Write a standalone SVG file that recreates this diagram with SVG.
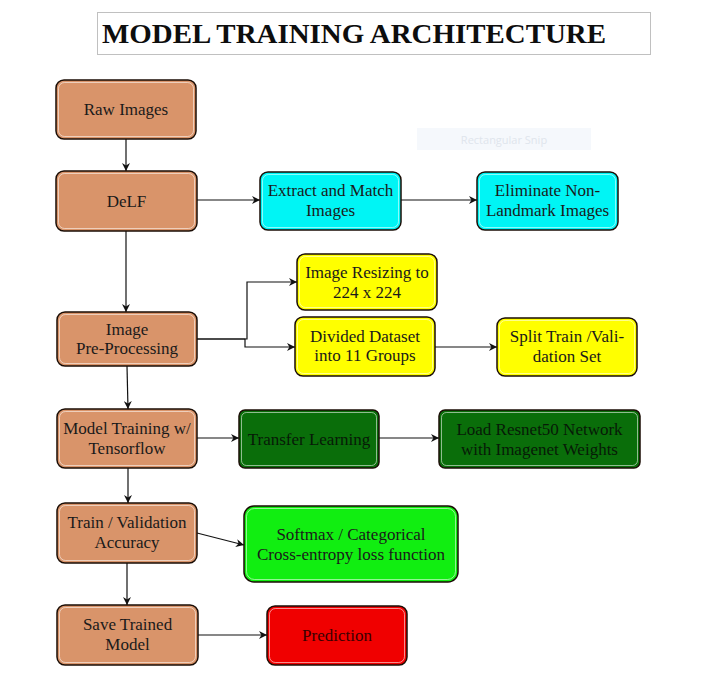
<svg xmlns="http://www.w3.org/2000/svg" width="706" height="694" viewBox="0 0 706 694">
<defs>
<marker id="arr" viewBox="0 0 10 10" refX="10" refY="5" markerWidth="8" markerHeight="8" markerUnits="userSpaceOnUse" orient="auto">
<path d="M0,0 L10,5 L0,10 L3,5 Z" fill="#111"/>
</marker>
<style>
.box{stroke:#1a0d05;stroke-width:1.5}
.inner{fill:none;stroke:#ffffff;stroke-opacity:0.55;stroke-width:1}
.brown{fill:#d9946a}
.cyan{fill:#00f5f5}
.yellow{fill:#ffff00}
.dgreen{fill:#0a6e0a}
.lgreen{fill:#11ee11}
.red{fill:#f00000}
.t{font-family:"Liberation Serif","Times New Roman",serif;font-size:17px;fill:#1a1a1a;text-anchor:middle}
.tg{fill:#071a07}
.tr{fill:#3a0000}
.conn{fill:none;stroke:#111;stroke-width:1.2}
</style>
</defs>
<rect width="706" height="694" fill="#ffffff"/>
<g id="title">
<rect x="97.5" y="12.5" width="553" height="42" fill="#ffffff" stroke="#c0c0c0" stroke-width="1"/>
<text x="102" y="43" font-family="Liberation Serif,'Times New Roman',serif" font-weight="bold" font-size="28" fill="#0d0d0d" textLength="504" lengthAdjust="spacingAndGlyphs">MODEL TRAINING ARCHITECTURE</text>
</g>
<g id="snip">
<rect x="417" y="128" width="174" height="22" fill="#f5f8fc"/>
<text x="504" y="144" font-family="'Open Sans','Noto Sans',sans-serif" font-size="11" fill="#dfe5ec" text-anchor="middle">Rectangular Snip</text>
</g>
<g id="connectors">
<line class="conn" x1="126" y1="139" x2="126" y2="171" marker-end="url(#arr)"/>
<line class="conn" x1="126" y1="231" x2="126" y2="312" marker-end="url(#arr)"/>
<line class="conn" x1="127" y1="366" x2="128" y2="409" marker-end="url(#arr)"/>
<line class="conn" x1="128" y1="468" x2="128" y2="503" marker-end="url(#arr)"/>
<line class="conn" x1="127" y1="563" x2="127" y2="605" marker-end="url(#arr)"/>
<line class="conn" x1="197" y1="200" x2="260" y2="200" marker-end="url(#arr)"/>
<line class="conn" x1="401" y1="200" x2="477" y2="200" marker-end="url(#arr)"/>
<polyline class="conn" points="197,339 247,339 247,282 297,282" marker-end="url(#arr)"/>
<polyline class="conn" points="197,339 245,339 245,347 295,347" marker-end="url(#arr)"/>
<line class="conn" x1="435" y1="347" x2="497" y2="347" marker-end="url(#arr)"/>
<line class="conn" x1="197" y1="438" x2="239" y2="438" marker-end="url(#arr)"/>
<line class="conn" x1="379" y1="438" x2="439" y2="438" marker-end="url(#arr)"/>
<line class="conn" x1="197" y1="533" x2="244" y2="545" marker-end="url(#arr)"/>
<line class="conn" x1="198" y1="635" x2="267" y2="635" marker-end="url(#arr)"/>
</g>
<g id="raw-images">
<rect class="box brown" x="56" y="80" width="140" height="59" rx="8"/>
<rect class="inner" x="58.5" y="82.5" width="135" height="54" rx="6"/>
<text class="t" x="126" y="115">Raw Images</text>
</g>
<g id="delf">
<rect class="box brown" x="56" y="171" width="141" height="60" rx="8"/>
<rect class="inner" x="58.5" y="173.5" width="136" height="55" rx="6"/>
<text class="t" x="126.5" y="207">DeLF</text>
</g>
<g id="extract">
<rect class="box cyan" x="260" y="172" width="141" height="58" rx="8"/>
<rect class="inner" x="262.5" y="174.5" width="136" height="53" rx="6"/>
<text class="t" x="330.5" y="196">Extract and Match</text>
<text class="t" x="330.5" y="216">Images</text>
</g>
<g id="eliminate">
<rect class="box cyan" x="477" y="172" width="141" height="58" rx="8"/>
<rect class="inner" x="479.5" y="174.5" width="136" height="53" rx="6"/>
<text class="t" x="547.5" y="196">Eliminate Non-</text>
<text class="t" x="547.5" y="216">Landmark Images</text>
</g>
<g id="preprocessing">
<rect class="box brown" x="57" y="312" width="140" height="54" rx="8"/>
<rect class="inner" x="59.5" y="314.5" width="135" height="49" rx="6"/>
<text class="t" x="127" y="335">Image</text>
<text class="t" x="127" y="354">Pre-Processing</text>
</g>
<g id="resizing">
<rect class="box yellow" x="297" y="254" width="140" height="56" rx="8"/>
<rect class="inner" x="299.5" y="256.5" width="135" height="51" rx="6"/>
<text class="t" x="367" y="278">Image Resizing to</text>
<text class="t" x="367" y="298">224 x 224</text>
</g>
<g id="divided">
<rect class="box yellow" x="295" y="317" width="140" height="59" rx="8"/>
<rect class="inner" x="297.5" y="319.5" width="135" height="54" rx="6"/>
<text class="t" x="365" y="342">Divided Dataset</text>
<text class="t" x="365" y="361">into 11 Groups</text>
</g>
<g id="split">
<rect class="box yellow" x="497" y="318" width="140" height="58" rx="8"/>
<rect class="inner" x="499.5" y="320.5" width="135" height="53" rx="6"/>
<text class="t" x="567" y="342">Split Train /Vali-</text>
<text class="t" x="567" y="362">dation Set</text>
</g>
<g id="model-training">
<rect class="box brown" x="57" y="409" width="140" height="59" rx="8"/>
<rect class="inner" x="59.5" y="411.5" width="135" height="54" rx="6"/>
<text class="t" x="127" y="434">Model Training w/</text>
<text class="t" x="127" y="454">Tensorflow</text>
</g>
<g id="transfer">
<rect class="box dgreen" x="239" y="410" width="140" height="58" rx="6"/>
<rect class="inner" x="241.5" y="412.5" width="135" height="53" rx="5"/>
<text class="t tg" x="309" y="445">Transfer Learning</text>
</g>
<g id="resnet">
<rect class="box dgreen" x="439" y="410" width="201" height="58" rx="6"/>
<rect class="inner" x="441.5" y="412.5" width="196" height="53" rx="5"/>
<text class="t tg" x="539.5" y="435">Load Resnet50 Network</text>
<text class="t tg" x="539.5" y="455">with Imagenet Weights</text>
</g>
<g id="accuracy">
<rect class="box brown" x="57" y="503" width="140" height="60" rx="8"/>
<rect class="inner" x="59.5" y="505.5" width="135" height="55" rx="6"/>
<text class="t" x="127" y="528">Train / Validation</text>
<text class="t" x="127" y="548">Accuracy</text>
</g>
<g id="softmax">
<rect class="box lgreen" x="244" y="506" width="214" height="76" rx="10"/>
<rect class="inner" x="246.5" y="508.5" width="209" height="71" rx="8"/>
<text class="t" x="351" y="540">Softmax / Categorical</text>
<text class="t" x="351" y="560">Cross-entropy loss function</text>
</g>
<g id="save-model">
<rect class="box brown" x="57" y="605" width="141" height="60" rx="8"/>
<rect class="inner" x="59.5" y="607.5" width="136" height="55" rx="6"/>
<text class="t" x="127.5" y="630">Save Trained</text>
<text class="t" x="127.5" y="650">Model</text>
</g>
<g id="prediction">
<rect class="box red" x="267" y="606" width="140" height="59" rx="8"/>
<rect class="inner" x="269.5" y="608.5" width="135" height="54" rx="6"/>
<text class="t tr" x="337" y="641">Prediction</text>
</g>
</svg>
